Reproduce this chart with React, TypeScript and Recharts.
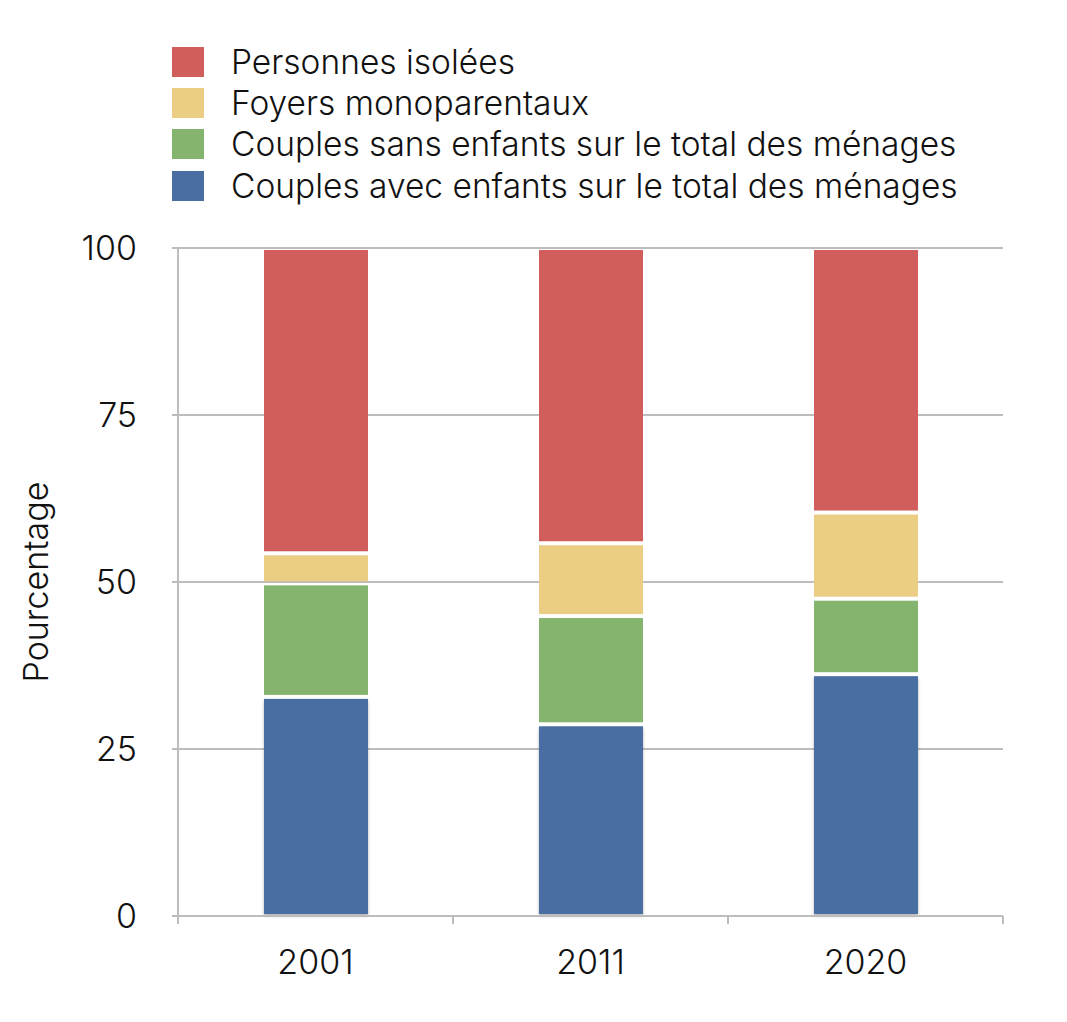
import { BarChart, Bar, XAxis, YAxis, CartesianGrid, Legend } from 'recharts'

const years = ['2001', '2011', '2020']
const couplesAvecEnfants = [32.8, 28.7, 36.2]
const couplesSansEnfants = [17.0, 16.2, 11.3]
const foyersMonoparentaux = [4.5, 10.9, 12.9]
const personnesIsolees = [45.7, 44.2, 39.6]
const yTicks = [0, 25, 50, 75, 100]

const series = [
  { key: 'avec', name: 'Couples avec enfants sur le total des ménages', color: '#4a6ea1', values: couplesAvecEnfants },
  { key: 'sans', name: 'Couples sans enfants sur le total des ménages', color: '#84b46d', values: couplesSansEnfants },
  { key: 'mono', name: 'Foyers monoparentaux', color: '#ebcd84', values: foyersMonoparentaux },
  { key: 'isol', name: 'Personnes isolées', color: '#d25d5d', values: personnesIsolees },
]

const data = years.map((year, i) => {
  const row: Record<string, string | number> = { year }
  series.forEach((s) => { row[s.key] = s.values[i] })
  return row
})

const FONT = '"Inter", "Helvetica Neue", sans-serif'
const GRID = '#bdbdbd'
const TICK_SIZE = 8
const TICK_MARGIN = 26

function InsetBar(props: any) {
  const { x, y, width, height, fill, shadow } = props
  if (!height || height <= 4) return null
  return (
    <rect
      x={x + 2}
      y={y + 2}
      width={width - 4}
      height={height - 4}
      fill={fill}
      filter={shadow ? 'url(#barShadow)' : undefined}
    />
  )
}

function YearTick(props: any) {
  const { x, y, payload, index, visibleTicksCount } = props
  const half = payload.offset || 137.5
  const axisY = y - TICK_SIZE - TICK_MARGIN
  const last = index === (visibleTicksCount ?? 3) - 1
  return (
    <g>
      <line x1={x - half} x2={x - half} y1={axisY} y2={axisY + TICK_SIZE} stroke={GRID} strokeWidth={2} />
      {last && (
        <line x1={x + half} x2={x + half} y1={axisY} y2={axisY + TICK_SIZE} stroke={GRID} strokeWidth={2} />
      )}
      <text x={x} y={y} dy="0.71em" textAnchor="middle" fontSize={34} fill="#111" fontFamily={FONT} fontWeight={300}>
        {payload.value}
      </text>
    </g>
  )
}

function YLabel(props: any) {
  const { viewBox } = props
  const cx = 27
  const cy = viewBox.y + viewBox.height / 2
  return (
    <text
      x={cx}
      y={cy}
      transform={`rotate(-90 ${cx} ${cy})`}
      textAnchor="middle"
      dominantBaseline="central"
      fontSize={34}
      fill="#111"
      fontFamily={FONT}
      fontWeight={300}
    >
      Pourcentage
    </text>
  )
}

function LegendBox() {
  const items = [...series].reverse()
  return (
    <div style={{ fontFamily: FONT, fontWeight: 300 }}>
      {items.map((s) => (
        <div key={s.key} style={{ display: 'flex', alignItems: 'center', height: 41.3 }}>
          <div style={{ width: 32, height: 30, background: s.color, marginRight: 27 }} />
          <span style={{ fontSize: 33.5, color: '#111', whiteSpace: 'nowrap' }}>{s.name}</span>
        </div>
      ))}
    </div>
  )
}

export default function App() {
  return (
    <div style={{ width: 1051, height: 1006, fontFamily: FONT }}>
      <BarChart
        width={1051}
        height={1006}
        data={data}
        margin={{ top: 240, right: 56, left: 0, bottom: 38 }}
      >
        <defs>
          <filter id="barShadow" x="-10%" y="-10%" width="120%" height="120%">
            <feDropShadow dx="0" dy="2" stdDeviation="1.5" floodColor="#000" floodOpacity="0.3" />
          </filter>
        </defs>
        <CartesianGrid vertical={false} stroke={GRID} strokeWidth={2} />
        <XAxis
          dataKey="year"
          height={60}
          axisLine={{ stroke: GRID, strokeWidth: 2 }}
          tickLine={false}
          tickSize={TICK_SIZE}
          tickMargin={TICK_MARGIN}
          tick={<YearTick />}
          interval={0}
        />
        <YAxis
          width={170}
          domain={[0, 100]}
          ticks={yTicks}
          interval={0}
          axisLine={{ stroke: GRID, strokeWidth: 2 }}
          tickLine={{ stroke: GRID, strokeWidth: 2 }}
          tickSize={6}
          tickMargin={35}
          tick={{ fontSize: 34, fill: '#111', fontWeight: 300, fontFamily: FONT }}
          label={<YLabel />}
        />
        <Legend
          layout="vertical"
          align="center"
          verticalAlign="middle"
          content={<LegendBox />}
          wrapperStyle={{ position: 'absolute', top: 33, left: 164, width: 'auto', height: 'auto' }}
        />
        {series.map((s, i) => (
          <Bar
            key={s.key}
            dataKey={s.key}
            name={s.name}
            stackId="a"
            fill={s.color}
            barSize={108}
            shape={<InsetBar shadow={i === 0} />}
            isAnimationActive={false}
          />
        ))}
      </BarChart>
    </div>
  )
}
